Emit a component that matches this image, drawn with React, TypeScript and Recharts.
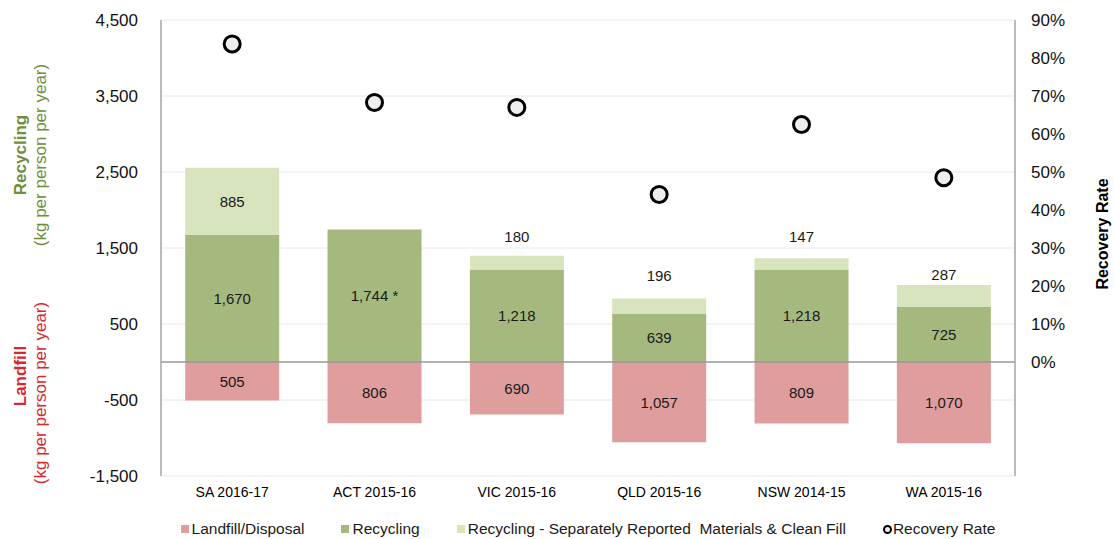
import { ComposedChart, Bar, Line, XAxis, YAxis, CartesianGrid, Legend, ReferenceLine, LabelList } from 'recharts';

const CATEGORIES = ['SA 2016-17', 'ACT 2015-16', 'VIC 2015-16', 'QLD 2015-16', 'NSW 2014-15', 'WA 2015-16'];
const LANDFILL = [505, 806, 690, 1057, 809, 1070];
const RECYCLING = [1670, 1744, 1218, 639, 1218, 725];
const RECYCLING_NOTES = ['', ' *', '', '', '', ''];
const SEPARATE = [885, 0, 180, 196, 147, 287];
const RECOVERY_RATE = [0.837, 0.683, 0.67, 0.441, 0.625, 0.485];

const LEFT_TICKS = [-1500, -500, 500, 1500, 2500, 3500, 4500];
const RIGHT_TICKS = [0, 0.1, 0.2, 0.3, 0.4, 0.5, 0.6, 0.7, 0.8, 0.9];

// gap between a small separately-reported segment and its label
const SEP_LABEL_GAP = [0, 0, 19, 23, 22, 11];

const FONT = '"Liberation Sans", Arial, sans-serif';
const C_LANDFILL = '#DF9D9D';
const C_RECYCLING = '#A5B97F';
const C_SEPARATE = '#D8E4BE';
const AXIS_GREY = '#A6A6A6';

const data = CATEGORIES.map((name, i) => ({
  name,
  landfill: -LANDFILL[i],
  recycling: RECYCLING[i],
  separate: SEPARATE[i],
  rate: RECOVERY_RATE[i],
}));

const fmt = (v: number) => Math.abs(v).toLocaleString('en-US');

function CenterLabel(props: any) {
  const { x, y, width, height, value, index, suffix } = props;
  if (value == null || value === 0) return null;
  return (
    <text x={x + width / 2} y={y + height / 2} textAnchor="middle" dominantBaseline="central" fontSize={15} fill="#1a1a1a" fontFamily={FONT}>
      {fmt(value)}
      {suffix ? suffix[index] : ''}
    </text>
  );
}

function SeparateLabel(props: any) {
  const { x, y, width, height, value } = props;
  if (value == null || value === 0) return null;
  // zero-height segments get skipped by LabelList, so look the category up by value
  const i = SEPARATE.indexOf(value);
  const inside = value > 400;
  const top = Math.min(y, y + height);
  const cy = inside ? y + height / 2 : top - (SEP_LABEL_GAP[i] ?? 20);
  return (
    <text x={x + width / 2} y={cy} textAnchor="middle" dominantBaseline="central" fontSize={15} fill="#1a1a1a" fontFamily={FONT}>
      {fmt(value)}
    </text>
  );
}

function LeftTitle(props: any) {
  const { viewBox } = props;
  const x0 = viewBox.x;
  const rows = [
    { text: 'Recycling', x: x0 + 20, y: 155, bold: true, color: '#6F8E3A' },
    { text: '(kg per person per year)', x: x0 + 40, y: 155, bold: false, color: '#6F8E3A' },
    { text: 'Landfill', x: x0 + 20, y: 376, bold: true, color: '#D9272E' },
    { text: '(kg per person per year)', x: x0 + 40, y: 393, bold: false, color: '#D9272E' },
  ];
  return (
    <g>
      {rows.map((r, i) => (
        <text
          key={i}
          x={r.x}
          y={r.y}
          transform={`rotate(-90 ${r.x} ${r.y})`}
          textAnchor="middle"
          dominantBaseline="central"
          fontSize={17}
          fontWeight={r.bold ? 'bold' : 'normal'}
          fill={r.color}
          fontFamily={FONT}
        >
          {r.text}
        </text>
      ))}
    </g>
  );
}

function RightTitle(props: any) {
  const { viewBox } = props;
  const x = viewBox.x + 87;
  const y = 234;
  return (
    <text x={x} y={y} transform={`rotate(-90 ${x} ${y})`} textAnchor="middle" dominantBaseline="central" fontSize={16} fontWeight="bold" fill="#000" fontFamily={FONT}>
      Recovery Rate
    </text>
  );
}

const LEGEND_ITEMS = [
  { label: 'Landfill/Disposal', color: C_LANDFILL, type: 'square' },
  { label: 'Recycling', color: C_RECYCLING, type: 'square' },
  { label: 'Recycling - Separately Reported  Materials & Clean Fill', color: C_SEPARATE, type: 'square' },
  { label: 'Recovery Rate', color: '#000', type: 'circle' },
];

function LegendContent() {
  return (
    <div style={{ height: 33, display: 'flex', justifyContent: 'center', alignItems: 'flex-start', paddingLeft: 161, paddingRight: 99, boxSizing: 'border-box', fontFamily: FONT, fontSize: 15.5, color: '#1a1a1a' }}>
      {LEGEND_ITEMS.map((it, i) => (
        <div key={i} style={{ display: 'flex', alignItems: 'center', marginTop: 15, height: 16, marginRight: i < LEGEND_ITEMS.length - 1 ? 37 : 0 }}>
          {it.type === 'square' ? (
            <span style={{ width: 8, height: 8, background: it.color, marginRight: 3, display: 'inline-block' }} />
          ) : (
            <span style={{ width: 5, height: 5, border: '2.5px solid #000', borderRadius: '50%', marginRight: 1, display: 'inline-block', background: '#eee' }} />
          )}
          <span style={{ whiteSpace: 'pre' }}>{it.label}</span>
        </div>
      ))}
    </div>
  );
}

export default function App() {
  return (
    <div style={{ position: 'absolute', left: 0, top: 0, width: 1114, height: 539, background: '#fff' }}>
      <ComposedChart width={1114} height={539} data={data} stackOffset="sign" barCategoryGap="17%" margin={{ top: 20, right: 0, bottom: 0, left: 0 }}>
        <CartesianGrid yAxisId="l" vertical={false} stroke="#E8E8E8" />
        <XAxis dataKey="name" axisLine={false} tickLine={false} tickSize={0} tickMargin={11} height={30} interval={0} tick={{ fontSize: 14, fill: '#000', fontFamily: FONT }} />
        <YAxis
          yAxisId="l"
          domain={[-1500, 4500]}
          ticks={LEFT_TICKS}
          interval={0}
          width={161}
          axisLine={{ stroke: AXIS_GREY, strokeWidth: 1.5 }}
          tickLine={false}
          tickSize={0}
          tickMargin={23}
          tickFormatter={(v: number) => v.toLocaleString('en-US')}
          tick={{ fontSize: 17, fill: '#111', fontFamily: FONT }}
          label={<LeftTitle />}
        />
        <YAxis
          yAxisId="r"
          orientation="right"
          domain={[-0.3, 0.9]}
          ticks={RIGHT_TICKS}
          interval={0}
          width={99}
          axisLine={{ stroke: AXIS_GREY, strokeWidth: 1.5 }}
          tickLine={false}
          tickSize={0}
          tickMargin={16}
          tickFormatter={(v: number) => `${Math.round(v * 100)}%`}
          tick={{ fontSize: 17, fill: '#111', fontFamily: FONT, textAnchor: 'start' }}
          label={<RightTitle />}
        />
        <Legend verticalAlign="bottom" content={<LegendContent />} />
        <Bar yAxisId="l" dataKey="landfill" stackId="a" fill={C_LANDFILL} isAnimationActive={false}>
          <LabelList dataKey="landfill" content={<CenterLabel />} />
        </Bar>
        <Bar yAxisId="l" dataKey="recycling" stackId="a" fill={C_RECYCLING} isAnimationActive={false}>
          <LabelList dataKey="recycling" content={<CenterLabel suffix={RECYCLING_NOTES} />} />
        </Bar>
        <Bar yAxisId="l" dataKey="separate" stackId="a" fill={C_SEPARATE} isAnimationActive={false}>
          <LabelList dataKey="separate" content={<SeparateLabel />} />
        </Bar>
        <ReferenceLine yAxisId="l" y={0} stroke="#999" strokeWidth={1.5} />
        <Line
          yAxisId="r"
          dataKey="rate"
          stroke="none"
          isAnimationActive={false}
          dot={{ r: 8, stroke: '#000', strokeWidth: 3, fill: '#EEEEEE' }}
          activeDot={false}
        />
      </ComposedChart>
    </div>
  );
}
